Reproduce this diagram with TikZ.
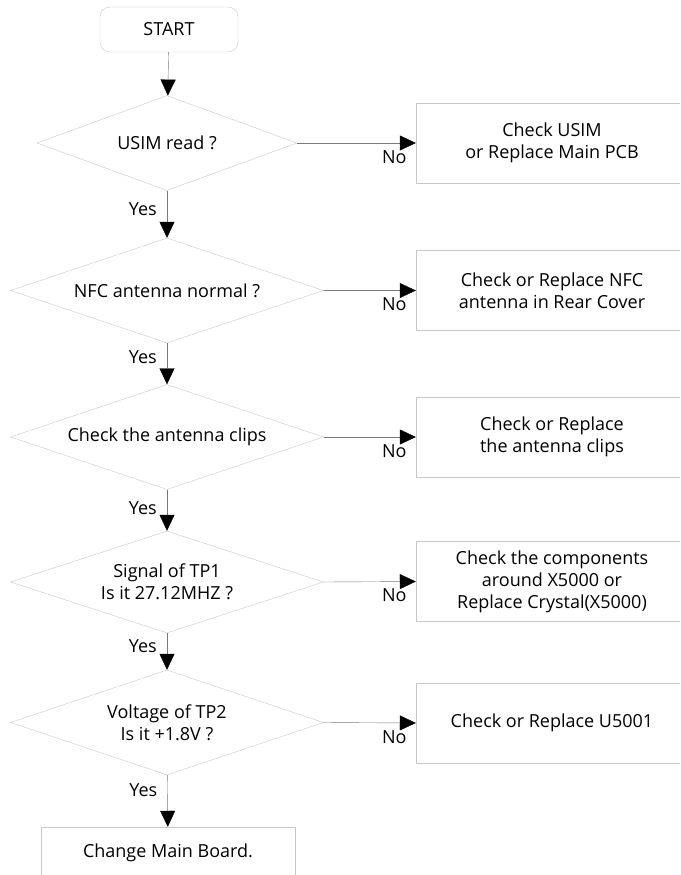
\documentclass[tikz,border=0pt]{standalone}
\usepackage{fontspec}
\setmainfont{Open Sans}
\usetikzlibrary{shapes.geometric,arrows.meta}

\definecolor{edgegray}{RGB}{200,200,200}
\definecolor{linegray}{RGB}{120,120,120}

\begin{document}
\begin{tikzpicture}[x=1pt, y=-1pt,
        font=\fontsize{18}{22}\selectfont,
        decision/.style={diamond, aspect=3, draw=edgegray, inner sep=0pt, align=center,
            minimum width=313pt, minimum height=105pt},
        action/.style={rectangle, draw=edgegray, align=center,
            minimum width=272pt, minimum height=80pt},
        flow/.style={draw=linegray, -{Triangle[length=16pt, width=15pt, black]}},
        yes/.style={left, inner sep=0pt, xshift=-10pt},
        no/.style={at end, anchor=north east, inner sep=0pt, xshift=-9pt, yshift=-7pt}]
        \path[use as bounding box, clip] (0,0) rectangle (680,875);

        % Start
        \node[draw=edgegray, rounded corners=10pt, minimum width=138pt, minimum height=45pt] (start) at (169,29.5) {START};

        % The checks
        \node[decision, minimum width=260pt, minimum height=95pt] (usim) at (167,143) {USIM read ?};
        \node[decision] (nfc) at (167,290.5) {NFC antenna normal ?};
        \node[decision] (clips) at (167,437) {Check the antenna clips};
        \node[decision, minimum height=102pt] (tp1) at (167,582) {Signal of TP1\\Is it 27.12MHZ ?};
        \node[decision] (tp2) at (167,722.5) {Voltage of TP2\\Is it +1.8V ?};

        % The repairs
        \node[action] (usimfix) at (552,143) {Check USIM\\or Replace Main PCB};
        \node[action] (nfcfix) at (552,290.5) {Check or Replace NFC\\antenna in Rear Cover};
        \node[action] (clipsfix) at (552,437) {Check or Replace\\the antenna clips};
        \node[action] (tp1fix) at (552,581.5) {Check the components\\around X5000 or\\Replace Crystal(X5000)};
        \node[action] (tp2fix) at (552,723) {Check or Replace U5001};

        % The end
        \node[action, minimum width=254pt, minimum height=52pt] (board) at (168,853) {Change Main Board.};

        % Yes path
        \draw[flow] (start) -- (usim);
        \draw[flow] (usim) -- node[yes, pos=0.4] {Yes} (nfc);
        \draw[flow] (nfc) -- node[yes, pos=0.35] {Yes} (clips);
        \draw[flow] (clips) -- node[yes, pos=0.45] {Yes} (tp1);
        \draw[flow] (tp1) -- node[yes, pos=0.35] {Yes} (tp2);
        \draw[flow] (tp2) -- node[yes, pos=0.3] {Yes} (board);

        % No path
        \draw[flow] (usim.east) -- node[no] {No} (usimfix.west);
        \draw[flow] (nfc.east) -- node[no] {No} (nfcfix.west);
        \draw[flow] (clips.east) -- node[no] {No} (clipsfix.west);
        \draw[flow] (tp1.east) -- node[no] {No} (tp1fix.west);
        \draw[flow] (tp2.east) -- node[no] {No} (tp2fix.west);
    \end{tikzpicture}
\end{document}
